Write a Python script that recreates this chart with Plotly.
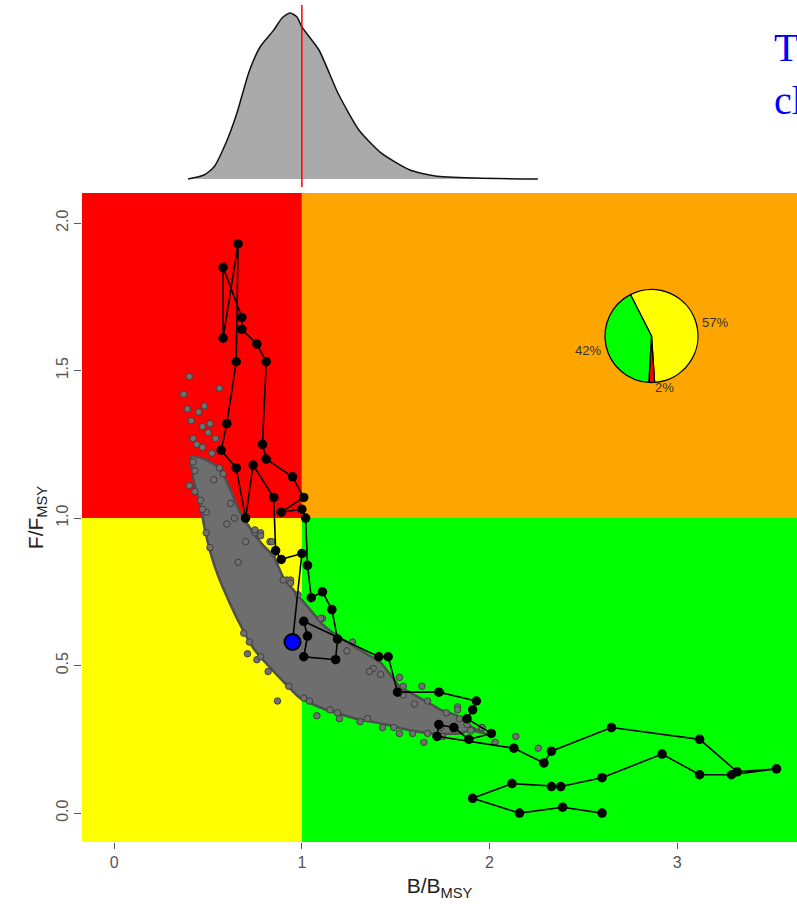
import plotly.graph_objects as go

# ---------------- data ----------------
# trajectory of B/Bmsy and F/Fmsy (time order, last point = current year)
traj_b = [2.60, 2.39, 2.16, 1.91, 2.12, 2.33, 2.38, 2.60, 2.92, 3.12, 3.29, 3.53, 3.32, 3.12,
          2.65, 2.33, 2.29, 2.13, 1.72, 1.73, 1.81, 1.89, 2.01, 1.88, 1.91, 1.93, 1.73, 1.51,
          1.46, 1.41, 1.01, 1.03, 1.01, 1.18, 1.19, 1.16, 1.11, 1.05, 1.03, 1.02, 1.00, 0.89,
          1.01, 0.95, 0.81, 0.79, 0.81, 0.76, 0.68, 0.68, 0.58, 0.58, 0.66, 0.65, 0.60, 0.57,
          0.65, 0.70, 0.74, 0.85, 0.86, 0.89, 1.00, 0.95]
traj_f = [0.00, 0.02, 0.00, 0.05, 0.10, 0.09, 0.09, 0.12, 0.20, 0.13, 0.13, 0.15, 0.14, 0.25,
          0.29, 0.21, 0.17, 0.22, 0.26, 0.30, 0.29, 0.25, 0.27, 0.32, 0.35, 0.38, 0.41, 0.41,
          0.53, 0.53, 0.65, 0.60, 0.53, 0.52, 0.59, 0.69, 0.75, 0.73, 0.84, 1.00, 1.03, 1.02,
          1.07, 1.14, 1.20, 1.25, 1.53, 1.59, 1.64, 1.68, 1.85, 1.61, 1.93, 1.53, 1.32, 1.23,
          1.17, 1.00, 1.18, 1.07, 0.89, 0.86, 0.88, 0.58]

# outline of the dense posterior cloud (upper edge, then lower edge back)
cloud_edge_b = [0.41, 0.48, 0.56, 0.61, 0.67, 0.72, 0.79, 0.85, 0.90, 0.95, 1.03, 1.11, 1.19,
                1.29, 1.42, 1.52, 1.63, 1.74, 1.83, 1.91, 1.98,
                1.90, 1.84, 1.70, 1.58, 1.45, 1.29, 1.13, 0.99, 0.88, 0.74, 0.67, 0.61, 0.55,
                0.51, 0.48, 0.46, 0.43, 0.41]
cloud_edge_f = [1.21, 1.20, 1.17, 1.11, 1.02, 0.97, 0.91, 0.87, 0.80, 0.76, 0.70, 0.64, 0.60,
                0.56, 0.51, 0.43, 0.39, 0.35, 0.33, 0.29, 0.27,
                0.28, 0.27, 0.27, 0.28, 0.30, 0.32, 0.35, 0.39, 0.46, 0.56, 0.64, 0.72, 0.81,
                0.89, 0.97, 1.04, 1.11, 1.18]

# scattered posterior draws around the cloud
cloud_pts_b = [0.40, 0.56, 0.48, 0.39, 0.45, 0.41, 0.51, 0.47, 0.50, 0.54, 0.42, 0.47, 0.52,
               0.56, 0.58, 0.40, 0.43, 0.46, 0.62, 0.75, 0.78, 0.83, 0.85, 0.94, 1.11, 0.71,
               0.76, 0.82, 0.87, 1.01, 1.08, 1.15, 1.20, 1.31, 1.43, 1.52, 1.67, 1.74, 1.52,
               1.83, 2.14, 2.03, 1.65, 2.26, 1.96, 1.27, 1.38, 1.54, 1.64, 1.74, 1.83, 0.92,
               0.44, 0.53, 0.60, 0.66, 0.37, 0.42, 0.49,
               0.75, 0.78, 0.84, 0.90, 0.94, 1.10, 1.36, 1.42, 1.54, 1.67, 1.77, 1.84, 1.35,
               1.49, 1.59, 1.75, 1.96, 1.90, 0.69, 0.72, 0.78, 0.93, 1.04, 1.19, 0.43, 0.47,
               0.49, 0.51, 0.64, 0.70, 0.98, 1.24, 1.60, 1.88]
cloud_pts_f = [1.48, 1.44, 1.38, 1.37, 1.36, 1.33, 1.32, 1.31, 1.29, 1.27, 1.27, 1.24, 1.22,
               1.17, 1.15, 1.11, 1.09, 1.06, 1.05, 0.95, 0.95, 0.92, 0.88, 0.79, 0.66, 0.54,
               0.52, 0.48, 0.38, 0.39, 0.33, 0.35, 0.32, 0.31, 0.29, 0.27, 0.27, 0.29, 0.46,
               0.36, 0.26, 0.24, 0.24, 0.22, 0.29, 0.58, 0.49, 0.43, 0.43, 0.41, 0.35, 0.79,
               1.25, 1.13, 0.98, 0.85, 1.42, 1.19, 1.02,
               0.96, 0.94, 0.92, 0.79, 0.78, 0.66, 0.48, 0.47, 0.40, 0.38, 0.34, 0.32, 0.32,
               0.29, 0.27, 0.26, 0.29, 0.28, 0.61, 0.58, 0.53, 0.43, 0.38, 0.34, 1.16, 1.03,
               0.95, 0.90, 1.00, 0.92, 0.74, 0.55, 0.37, 0.30]

# marginal density of B/Bmsy (relative height)
dens_b = [0.393, 0.478, 0.531, 0.595, 0.654, 0.718, 0.777, 0.851, 0.894, 0.937, 0.974, 1.000,
          1.091, 1.192, 1.304, 1.422, 1.576, 1.710, 1.928, 2.258]
dens_y = [0.000, 0.024, 0.072, 0.217, 0.398, 0.645, 0.795, 0.898, 0.970, 1.000, 0.976, 0.916,
          0.777, 0.518, 0.295, 0.157, 0.054, 0.018, 0.006, 0.000]

# pie of quadrant probabilities
pie_labels = ["57%", "2%", "42%"]
pie_values = [57, 2, 42]
pie_colors = ["#ffff00", "#ff0000", "#00ff00"]

x_ticks = [0, 1, 2, 3]
x_ticklabels = ["0", "1", "2", "3"]
y_ticks = [0, 0.5, 1.0, 1.5, 2.0]
y_ticklabels = ["0.0", "0.5", "1.0", "1.5", "2.0"]

# ---------------- figure ----------------
W, H = 797, 916
ML, MR, MT, MB = 82, 0, 5, 74
PW, PH = W - ML - MR, H - MT - MB


def px_x(p):
    return (p - ML) / PW


def px_y(p):
    return (H - MB - p) / PH


fig = go.Figure()

# density panel
fig.add_trace(go.Scatter(x=dens_b, y=dens_y, mode="lines", fill="tozeroy",
                         fillcolor="#aaaaaa",
                         line=dict(color="#111111", width=1.5, shape="spline", smoothing=0.6),
                         xaxis="x2", yaxis="y2", hoverinfo="skip"))

# cloud core
fig.add_trace(go.Scatter(x=cloud_edge_b + [cloud_edge_b[0]], y=cloud_edge_f + [cloud_edge_f[0]],
                         mode="lines", fill="toself", fillcolor="#6e6e6e",
                         line=dict(color="#4f4f4f", width=2.5, shape="spline", smoothing=0.4),
                         hoverinfo="skip"))
# scattered draws
fig.add_trace(go.Scatter(x=cloud_pts_b, y=cloud_pts_f, mode="markers",
                         marker=dict(size=6.5, color="#707070", line=dict(color="#3a3a3a", width=0.9)),
                         hoverinfo="skip"))
# trajectory
fig.add_trace(go.Scatter(x=traj_b, y=traj_f, mode="lines+markers",
                         line=dict(color="black", width=1.6),
                         marker=dict(size=9.5, color="black"), hoverinfo="skip"))
# current year
fig.add_trace(go.Scatter(x=[traj_b[-1]], y=[traj_f[-1]], mode="markers",
                         marker=dict(size=16, color="#0000ff", line=dict(color="black", width=2)),
                         hoverinfo="skip"))

# pie
cx, cy, r = 651.5, 336, 46.5
fig.add_trace(go.Pie(values=pie_values, labels=pie_labels, sort=False, direction="clockwise",
                     rotation=-27, textinfo="none", hoverinfo="skip", showlegend=False,
                     marker=dict(colors=pie_colors, line=dict(color="black", width=1.3)),
                     domain=dict(x=[px_x(cx - r), px_x(cx + r)], y=[px_y(cy + r), px_y(cy - r)])))

shapes = [
    dict(type="rect", xref="x", yref="y", x0=-1, x1=1, y0=1, y1=3, fillcolor="#ff0000", line_width=0, layer="below"),
    dict(type="rect", xref="x", yref="y", x0=1, x1=6, y0=1, y1=3, fillcolor="#ffa500", line_width=0, layer="below"),
    dict(type="rect", xref="x", yref="y", x0=-1, x1=1, y0=-1, y1=1, fillcolor="#ffff00", line_width=0, layer="below"),
    dict(type="rect", xref="x", yref="y", x0=1, x1=6, y0=-1, y1=1, fillcolor="#00ff00", line_width=0, layer="below"),
    dict(type="line", xref="x2", yref="y2 domain", x0=1, x1=1, y0=0, y1=1,
         line=dict(color="#ff0000", width=1.5)),
]

label_font = dict(family="Liberation Sans, Arial", size=13, color="#333333")
annotations = [
    dict(text=pie_labels[0], x=px_x(700), y=px_y(322), xref="paper", yref="paper",
         xanchor="left", yanchor="middle", showarrow=False, font=label_font),
    dict(text=pie_labels[1], x=px_x(653), y=px_y(387), xref="paper", yref="paper",
         xanchor="left", yanchor="middle", showarrow=False, font=label_font),
    dict(text=pie_labels[2], x=px_x(603), y=px_y(350), xref="paper", yref="paper",
         xanchor="right", yanchor="middle", showarrow=False, font=label_font),
    dict(text="T", x=px_x(772), y=px_y(47), xref="paper", yref="paper",
         xanchor="left", yanchor="middle", showarrow=False,
         font=dict(family="Liberation Serif, Times New Roman", size=40, color="#0000ff")),
    dict(text="cl", x=px_x(772), y=px_y(100), xref="paper", yref="paper",
         xanchor="left", yanchor="middle", showarrow=False,
         font=dict(family="Liberation Serif, Times New Roman", size=40, color="#0000ff")),
]

tick_font = dict(family="Liberation Sans, Arial", size=16, color="#555555")
title_font = dict(family="Liberation Sans, Arial", size=21, color="#222222")

fig.update_layout(
    width=W, height=H,
    margin=dict(l=ML, r=MR, t=MT, b=MB, pad=0),
    paper_bgcolor="white", plot_bgcolor="white",
    showlegend=False, hovermode=False,
    shapes=shapes, annotations=annotations,
    xaxis=dict(domain=[0, 1], range=[-0.172, 3.639], showgrid=False, zeroline=False, showline=False,
               ticks="outside", ticklen=6, tickwidth=1, tickcolor="#555555",
               tickvals=x_ticks, ticktext=x_ticklabels, tickfont=tick_font,
               title=dict(text="B/B<sub>MSY</sub>", font=title_font, standoff=8)),
    yaxis=dict(domain=[0, px_y(193)], range=[-0.098, 2.102], showgrid=False, zeroline=False,
               showline=False, ticks="outside", ticklen=7, tickwidth=1, tickcolor="#555555",
               tickvals=y_ticks, ticktext=y_ticklabels, tickangle=-90, tickfont=tick_font,
               title=dict(text="F/F<sub>MSY</sub>", font=title_font, standoff=4)),
    xaxis2=dict(domain=[0, 1], range=[-0.172, 3.639], anchor="y2", visible=False),
    yaxis2=dict(domain=[px_y(187), px_y(5)], range=[-0.048, 1.048], anchor="x2", visible=False),
)

fig.write_html("out.html", config={"displayModeBar": False},
               post_script="document.body.style.margin='0';document.body.style.overflow='hidden';")
